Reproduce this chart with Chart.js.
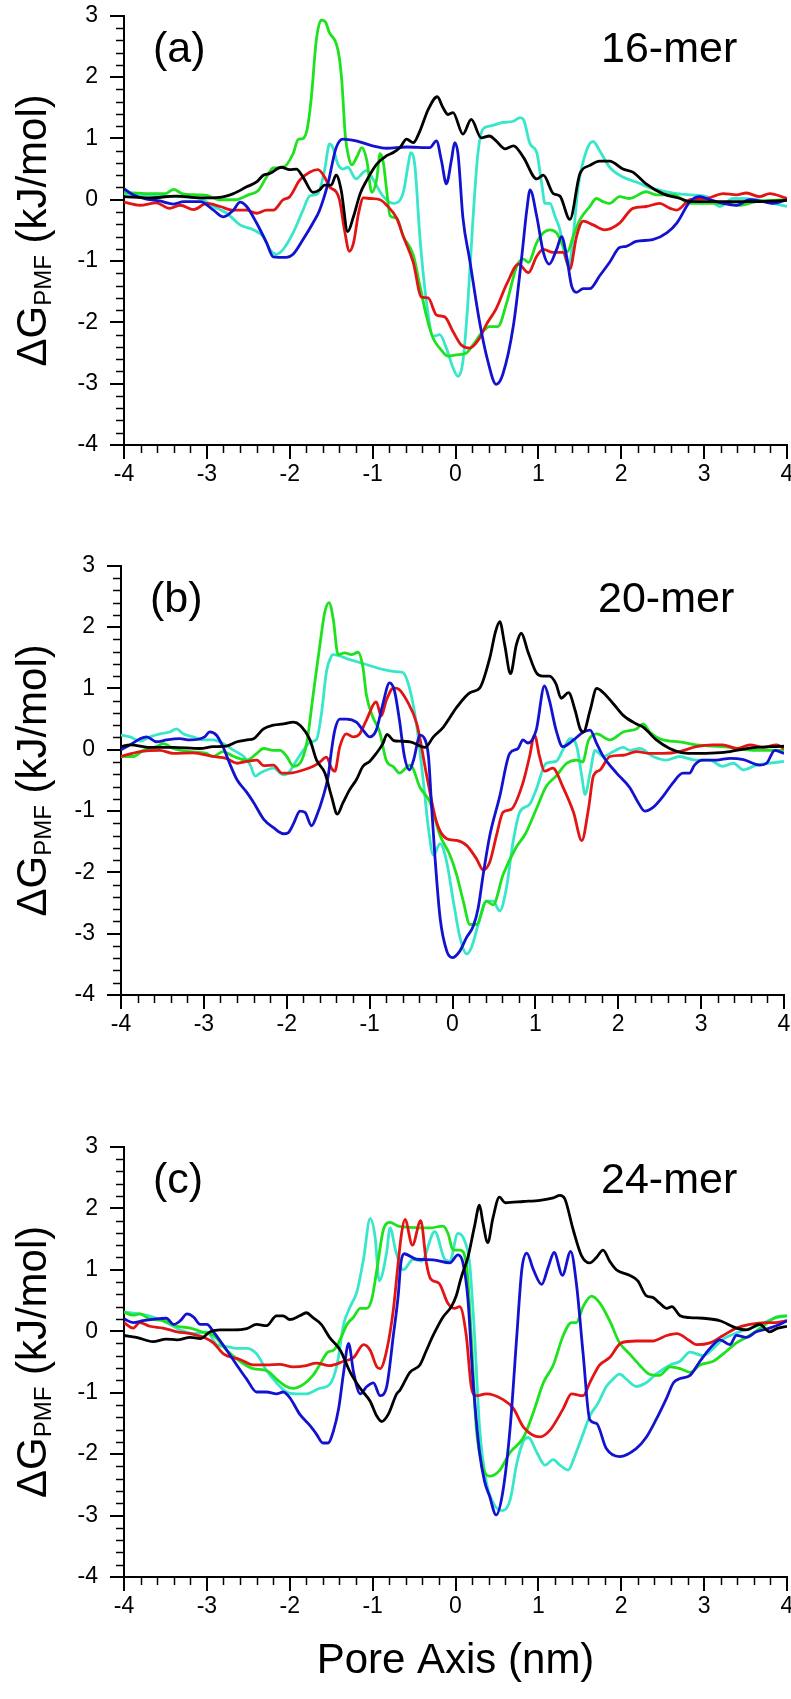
<!DOCTYPE html>
<html>
<head>
<meta charset="utf-8">
<title>PMF profiles</title>
<script src="https://cdn.jsdelivr.net/npm/chart.js@4.4.1/dist/chart.umd.min.js"></script>
<style>
  html, body { margin: 0; padding: 0; background: #fff; }
  body { width: 791px; height: 1699px; position: relative; overflow: hidden; }
  canvas { position: absolute; left: 0; }
</style>
</head>
<body>
<canvas id="chartA" width="800" height="520" style="top:-10px"></canvas>
<canvas id="chartB" width="800" height="520" style="top:540px"></canvas>
<canvas id="chartC" width="800" height="578" style="top:1121px"></canvas>
<script>
const FONT = "'Liberation Sans', Arial, Helvetica, sans-serif";

const panelTags = ['(a)', '(b)', '(c)'];
const panelSizes = ['16-mer', '20-mer', '24-mer'];
const seriesNames = ['black', 'blue', 'red', 'green', 'cyan'];
const seriesColors = ['#000000', '#1212d0', '#e21414', '#1ee21e', '#38e6c9'];
const xRange = [-4, 4];
const yRange = [-4, 3];

// (a) 16-mer, [pore axis nm, dG kJ/mol]
const a16Black = [[-4.0,0.05],[-3.69,0.03],[-3.37,0.06],[-3.08,0.03],[-2.84,0.04],[-2.68,0.1],[-2.52,0.21],[-2.4,0.29],[-2.32,0.4],[-2.24,0.43],[-2.1,0.53],[-2.0,0.49],[-1.92,0.5],[-1.84,0.37],[-1.72,0.12],[-1.64,0.16],[-1.58,0.24],[-1.5,0.24],[-1.44,0.4],[-1.38,0.16],[-1.3,-0.52],[-1.23,-0.27],[-1.15,0.1],[-1.07,0.32],[-0.95,0.58],[-0.83,0.72],[-0.75,0.77],[-0.67,0.85],[-0.59,0.99],[-0.51,0.93],[-0.43,1.12],[-0.33,1.47],[-0.22,1.68],[-0.15,1.5],[-0.09,1.39],[-0.03,1.42],[0.09,1.07],[0.19,1.31],[0.31,1.01],[0.41,1.04],[0.49,0.96],[0.6,0.83],[0.7,0.88],[0.82,0.69],[0.98,0.34],[1.06,0.4],[1.18,0.1],[1.26,0.06],[1.38,-0.32],[1.5,0.42],[1.62,0.56],[1.74,0.63],[1.86,0.63],[2.02,0.5],[2.14,0.45],[2.3,0.26],[2.5,0.1],[2.71,0.02],[2.83,-0.03],[3.23,-0.03],[3.63,-0.03],[4.0,-0.01]];
const a16Blue = [[-4.0,0.18],[-3.89,0.08],[-3.73,0.01],[-3.57,-0.02],[-3.4,-0.07],[-3.28,-0.03],[-3.08,-0.03],[-2.92,-0.17],[-2.8,-0.28],[-2.68,-0.17],[-2.6,-0.04],[-2.52,-0.11],[-2.4,-0.38],[-2.28,-0.7],[-2.2,-0.93],[-2.04,-0.94],[-1.96,-0.89],[-1.84,-0.65],[-1.72,-0.38],[-1.64,-0.17],[-1.54,0.26],[-1.44,0.85],[-1.36,0.99],[-1.2,0.96],[-1.0,0.88],[-0.83,0.84],[-0.59,0.86],[-0.31,0.85],[-0.23,0.96],[-0.17,0.64],[-0.11,0.26],[-0.05,0.64],[-0.01,0.93],[0.03,0.75],[0.09,-0.3],[0.17,-0.97],[0.29,-1.99],[0.39,-2.63],[0.49,-3.01],[0.57,-2.85],[0.7,-2.04],[0.8,-0.92],[0.86,-0.17],[0.9,0.16],[0.98,-0.27],[1.06,-0.86],[1.13,-1.05],[1.22,-0.81],[1.28,-0.6],[1.34,-0.92],[1.4,-1.4],[1.46,-1.51],[1.54,-1.45],[1.62,-1.45],[1.74,-1.24],[1.86,-1.02],[1.98,-0.78],[2.06,-0.76],[2.18,-0.68],[2.38,-0.65],[2.55,-0.54],[2.67,-0.38],[2.83,-0.03],[2.95,0.05],[3.07,0.0],[3.23,-0.06],[3.39,-0.09],[3.55,0.0],[3.71,-0.03],[3.83,-0.06],[4.0,0.0]];
const a16Red = [[-4.0,-0.04],[-3.81,-0.09],[-3.61,-0.05],[-3.45,-0.14],[-3.32,-0.09],[-3.16,-0.16],[-3.0,-0.06],[-2.84,-0.11],[-2.68,-0.17],[-2.52,-0.17],[-2.4,-0.22],[-2.28,-0.17],[-2.2,-0.17],[-2.08,0.0],[-2.0,0.05],[-1.88,0.32],[-1.76,0.45],[-1.66,0.49],[-1.58,0.37],[-1.52,0.21],[-1.44,0.13],[-1.4,0.0],[-1.34,-0.49],[-1.28,-0.84],[-1.23,-0.7],[-1.17,-0.22],[-1.11,0.03],[-1.03,0.02],[-0.91,0.0],[-0.83,-0.09],[-0.71,-0.3],[-0.63,-0.6],[-0.51,-1.02],[-0.41,-1.59],[-0.33,-1.6],[-0.23,-1.88],[-0.13,-1.91],[-0.03,-2.15],[0.07,-2.37],[0.17,-2.42],[0.29,-2.26],[0.37,-2.04],[0.49,-1.78],[0.62,-1.37],[0.76,-1.05],[0.88,-1.19],[0.98,-0.92],[1.06,-0.81],[1.18,-0.86],[1.3,-0.86],[1.38,-1.13],[1.46,-0.6],[1.54,-0.35],[1.66,-0.41],[1.8,-0.49],[1.98,-0.38],[2.14,-0.14],[2.3,-0.11],[2.46,-0.06],[2.59,-0.14],[2.67,-0.17],[2.83,0.0],[3.03,0.02],[3.23,0.1],[3.39,0.08],[3.51,0.11],[3.67,0.05],[3.79,0.1],[4.0,0.02]];
const a16Green = [[-4.0,0.12],[-3.7,0.1],[-3.5,0.1],[-3.4,0.17],[-3.3,0.1],[-3.1,0.08],[-3.0,0.07],[-2.85,0.0],[-2.65,0.0],[-2.5,0.08],[-2.38,0.15],[-2.28,0.37],[-2.2,0.52],[-2.08,0.53],[-1.96,0.75],[-1.9,0.98],[-1.84,1.0],[-1.79,1.15],[-1.74,1.66],[-1.68,2.6],[-1.62,2.93],[-1.57,2.9],[-1.52,2.72],[-1.44,2.55],[-1.4,2.3],[-1.37,1.9],[-1.33,1.05],[-1.29,0.7],[-1.25,0.57],[-1.19,0.7],[-1.13,0.85],[-1.07,0.64],[-1.01,0.12],[-0.95,0.34],[-0.91,0.75],[-0.87,0.6],[-0.83,0.14],[-0.79,-0.26],[-0.71,-0.3],[-0.63,-0.6],[-0.51,-0.9],[-0.43,-1.4],[-0.35,-1.9],[-0.27,-2.26],[-0.19,-2.42],[-0.09,-2.55],[0.01,-2.53],[0.13,-2.5],[0.21,-2.37],[0.33,-2.15],[0.41,-2.07],[0.51,-2.07],[0.62,-1.67],[0.74,-1.08],[0.82,-0.97],[0.88,-1.02],[0.98,-0.7],[1.06,-0.54],[1.14,-0.49],[1.22,-0.54],[1.3,-0.76],[1.35,-0.85],[1.42,-0.6],[1.5,-0.33],[1.62,-0.11],[1.7,0.02],[1.78,-0.03],[1.86,-0.06],[1.98,0.05],[2.1,0.02],[2.3,0.13],[2.42,0.08],[2.63,0.08],[2.83,-0.06],[3.23,-0.06],[3.43,-0.09],[3.63,-0.03],[4.0,0.0]];
const a16Cyan = [[-4.0,0.1],[-3.69,0.08],[-3.37,0.05],[-3.08,0.02],[-2.92,-0.11],[-2.76,-0.22],[-2.6,-0.41],[-2.44,-0.49],[-2.32,-0.6],[-2.24,-0.81],[-2.16,-0.89],[-2.08,-0.81],[-1.96,-0.54],[-1.84,-0.17],[-1.76,0.06],[-1.66,0.1],[-1.58,0.48],[-1.52,0.91],[-1.48,0.85],[-1.42,0.58],[-1.36,0.5],[-1.3,0.53],[-1.2,0.34],[-1.11,0.45],[-1.07,0.48],[-0.99,0.32],[-0.87,0.05],[-0.75,-0.06],[-0.63,0.12],[-0.57,0.58],[-0.54,0.77],[-0.49,0.55],[-0.43,-0.6],[-0.35,-1.67],[-0.27,-2.23],[-0.19,-2.2],[-0.11,-2.42],[-0.03,-2.74],[0.03,-2.88],[0.09,-2.63],[0.15,-1.67],[0.21,-0.33],[0.27,0.75],[0.33,1.15],[0.41,1.2],[0.57,1.26],[0.7,1.28],[0.78,1.34],[0.82,1.31],[0.9,0.91],[0.98,0.77],[1.04,0.26],[1.08,-0.06],[1.14,-0.06],[1.2,-0.27],[1.26,-0.49],[1.32,-0.92],[1.37,-1.08],[1.42,-0.6],[1.48,0.21],[1.58,0.8],[1.66,0.95],[1.74,0.8],[1.86,0.53],[2.02,0.37],[2.18,0.29],[2.38,0.18],[2.55,0.13],[2.67,0.1],[2.83,0.08],[3.03,0.05],[3.19,-0.11],[3.35,0.02],[3.63,0.0],[3.83,-0.06],[4.0,-0.11]];

// (b) 20-mer
const b20Black = [[-4.0,0.05],[-3.89,0.08],[-3.65,0.04],[-3.37,0.04],[-3.05,0.02],[-2.89,0.05],[-2.73,0.06],[-2.6,0.13],[-2.48,0.16],[-2.4,0.18],[-2.28,0.34],[-2.16,0.4],[-2.04,0.42],[-1.92,0.45],[-1.84,0.4],[-1.72,0.16],[-1.64,-0.17],[-1.54,-0.38],[-1.46,-0.76],[-1.39,-1.05],[-1.32,-0.86],[-1.24,-0.65],[-1.16,-0.49],[-1.08,-0.27],[-1.0,-0.19],[-0.92,-0.06],[-0.84,0.1],[-0.79,0.25],[-0.71,0.15],[-0.64,0.14],[-0.51,0.13],[-0.33,0.04],[-0.23,0.21],[-0.11,0.37],[0.05,0.69],[0.21,0.93],[0.33,1.01],[0.45,1.5],[0.52,1.93],[0.57,2.09],[0.63,1.71],[0.7,1.24],[0.77,1.71],[0.83,1.9],[0.91,1.6],[1.01,1.26],[1.09,1.2],[1.17,1.2],[1.25,1.07],[1.31,0.84],[1.4,0.93],[1.48,0.64],[1.54,0.34],[1.58,0.29],[1.66,0.64],[1.74,1.0],[1.82,0.93],[1.94,0.75],[2.06,0.56],[2.22,0.42],[2.3,0.37],[2.46,0.16],[2.62,0.02],[2.78,-0.05],[2.94,-0.06],[3.18,-0.05],[3.35,-0.03],[3.51,0.01],[3.67,0.04],[3.87,0.05],[4.0,0.06]];
const b20Blue = [[-4.0,0.0],[-3.89,0.08],[-3.77,0.18],[-3.69,0.21],[-3.57,0.13],[-3.45,0.16],[-3.29,0.18],[-3.17,0.16],[-2.99,0.21],[-2.93,0.29],[-2.85,0.24],[-2.77,0.05],[-2.69,-0.22],[-2.6,-0.49],[-2.48,-0.7],[-2.4,-0.86],[-2.28,-1.13],[-2.16,-1.27],[-2.04,-1.37],[-1.98,-1.35],[-1.92,-1.21],[-1.84,-1.0],[-1.78,-1.02],[-1.7,-1.24],[-1.64,-1.08],[-1.56,-0.76],[-1.5,-0.43],[-1.46,-0.01],[-1.42,0.32],[-1.36,0.5],[-1.28,0.5],[-1.16,0.45],[-1.08,0.32],[-1.0,0.21],[-0.92,0.32],[-0.84,0.75],[-0.76,1.09],[-0.7,0.96],[-0.64,0.48],[-0.58,-0.11],[-0.52,-0.33],[-0.47,-0.17],[-0.39,0.24],[-0.35,0.21],[-0.29,-0.11],[-0.25,-0.97],[-0.21,-1.78],[-0.15,-2.74],[-0.07,-3.28],[0.0,-3.39],[0.09,-3.28],[0.17,-3.06],[0.25,-2.88],[0.31,-2.58],[0.37,-2.04],[0.45,-1.4],[0.57,-0.76],[0.69,-0.06],[0.79,0.02],[0.85,0.16],[0.91,0.11],[1.01,0.32],[1.11,1.04],[1.17,0.8],[1.25,0.32],[1.33,0.05],[1.46,0.16],[1.58,0.29],[1.66,0.32],[1.74,0.1],[1.82,-0.11],[1.98,-0.38],[2.14,-0.62],[2.24,-0.86],[2.32,-1.0],[2.42,-0.94],[2.54,-0.76],[2.66,-0.54],[2.78,-0.38],[2.86,-0.38],[2.92,-0.25],[3.02,-0.17],[3.18,-0.17],[3.35,-0.14],[3.51,-0.16],[3.71,-0.25],[3.79,-0.22],[3.89,-0.01],[4.0,-0.06]];
const b20Red = [[-4.0,-0.11],[-3.77,-0.03],[-3.53,-0.01],[-3.37,-0.06],[-3.13,-0.05],[-2.89,-0.11],[-2.73,-0.14],[-2.6,-0.22],[-2.48,-0.19],[-2.36,-0.17],[-2.28,-0.26],[-2.16,-0.25],[-2.06,-0.38],[-1.96,-0.38],[-1.8,-0.33],[-1.68,-0.27],[-1.6,-0.2],[-1.52,-0.12],[-1.46,-0.3],[-1.42,-0.35],[-1.36,0.05],[-1.28,0.26],[-1.2,0.21],[-1.12,0.26],[-1.04,0.48],[-0.92,0.78],[-0.86,0.55],[-0.8,0.8],[-0.71,1.01],[-0.65,0.99],[-0.55,0.8],[-0.43,0.42],[-0.31,-0.43],[-0.19,-1.19],[-0.07,-1.45],[0.05,-1.48],[0.17,-1.56],[0.29,-1.78],[0.37,-1.96],[0.45,-1.83],[0.53,-1.4],[0.61,-1.02],[0.71,-0.97],[0.85,-0.54],[0.93,-0.11],[0.99,0.24],[1.05,-0.11],[1.11,-0.35],[1.21,-0.3],[1.33,-0.6],[1.46,-1.02],[1.56,-1.48],[1.64,-0.97],[1.7,-0.43],[1.78,-0.33],[1.9,-0.11],[2.06,-0.09],[2.22,-0.03],[2.38,-0.06],[2.54,-0.06],[2.74,-0.03],[2.94,0.05],[3.14,0.08],[3.26,0.08],[3.43,0.02],[3.59,0.08],[3.75,0.04],[3.91,0.08],[4.0,0.02]];
const b20Green = [[-4.0,-0.11],[-3.85,-0.11],[-3.73,-0.01],[-3.57,0.05],[-3.49,0.1],[-3.37,0.02],[-3.17,-0.03],[-2.97,-0.06],[-2.89,-0.11],[-2.77,-0.03],[-2.64,-0.11],[-2.48,-0.17],[-2.36,-0.06],[-2.28,0.02],[-2.16,-0.01],[-2.08,-0.01],[-2.0,-0.11],[-1.92,-0.27],[-1.84,-0.22],[-1.76,0.1],[-1.68,0.91],[-1.6,1.71],[-1.54,2.25],[-1.49,2.4],[-1.44,2.14],[-1.38,1.55],[-1.3,1.58],[-1.22,1.55],[-1.14,1.59],[-1.08,1.34],[-1.04,0.9],[-0.96,0.53],[-0.88,0.3],[-0.8,-0.17],[-0.71,-0.28],[-0.64,-0.38],[-0.51,-0.25],[-0.39,-0.62],[-0.27,-0.86],[-0.15,-1.4],[-0.03,-1.72],[0.05,-2.04],[0.13,-2.47],[0.21,-2.85],[0.29,-2.85],[0.41,-2.47],[0.49,-2.53],[0.61,-2.04],[0.76,-1.61],[0.88,-1.37],[1.01,-0.97],[1.13,-0.6],[1.25,-0.43],[1.38,-0.22],[1.5,-0.17],[1.57,-0.2],[1.64,0.15],[1.74,0.26],[1.9,0.16],[2.06,0.29],[2.22,0.34],[2.3,0.42],[2.38,0.29],[2.54,0.16],[2.74,0.13],[2.94,0.08],[3.26,0.05],[3.67,-0.01],[4.0,-0.01]];
const b20Cyan = [[-4.0,0.24],[-3.89,0.21],[-3.77,0.14],[-3.65,0.21],[-3.53,0.26],[-3.41,0.29],[-3.33,0.34],[-3.25,0.26],[-3.13,0.21],[-3.01,0.16],[-2.89,0.16],[-2.77,0.1],[-2.64,-0.01],[-2.52,-0.11],[-2.44,-0.25],[-2.38,-0.43],[-2.32,-0.38],[-2.24,-0.33],[-2.16,-0.3],[-2.04,-0.41],[-1.98,-0.38],[-1.88,-0.17],[-1.8,-0.01],[-1.72,0.12],[-1.64,0.17],[-1.58,0.6],[-1.52,1.28],[-1.46,1.53],[-1.44,1.55],[-1.24,1.47],[-1.04,1.39],[-0.84,1.31],[-0.65,1.27],[-0.6,1.26],[-0.51,0.96],[-0.43,0.37],[-0.35,-0.54],[-0.29,-1.29],[-0.23,-1.72],[-0.15,-1.53],[-0.07,-1.83],[0.01,-2.47],[0.09,-3.06],[0.17,-3.33],[0.23,-3.22],[0.31,-2.85],[0.41,-2.47],[0.49,-2.47],[0.57,-2.63],[0.65,-2.26],[0.73,-1.51],[0.81,-1.02],[0.93,-0.89],[1.01,-0.65],[1.13,-0.22],[1.25,-0.19],[1.33,-0.01],[1.42,0.18],[1.5,0.05],[1.56,-0.43],[1.6,-0.73],[1.66,-0.38],[1.72,-0.01],[1.82,-0.11],[1.94,-0.03],[2.06,0.04],[2.14,-0.01],[2.26,0.02],[2.42,-0.11],[2.58,-0.17],[2.74,-0.11],[2.94,-0.17],[3.1,-0.17],[3.26,-0.27],[3.39,-0.22],[3.51,-0.33],[3.67,-0.25],[3.83,-0.22],[4.0,-0.19]];

// (c) 24-mer
const c24Black = [[-4.0,-0.07],[-3.85,-0.1],[-3.65,-0.17],[-3.49,-0.13],[-3.36,-0.14],[-3.2,-0.1],[-3.08,-0.12],[-2.96,-0.01],[-2.84,0.02],[-2.68,0.02],[-2.52,0.04],[-2.4,0.11],[-2.28,0.09],[-2.16,0.25],[-2.08,0.25],[-2.0,0.19],[-1.88,0.25],[-1.8,0.3],[-1.72,0.22],[-1.62,0.11],[-1.52,-0.1],[-1.39,-0.31],[-1.27,-0.67],[-1.15,-0.93],[-1.03,-1.14],[-0.95,-1.38],[-0.89,-1.47],[-0.81,-1.35],[-0.71,-1.02],[-0.67,-0.96],[-0.55,-0.67],[-0.43,-0.55],[-0.35,-0.31],[-0.27,-0.07],[-0.15,0.23],[-0.05,0.4],[0.01,0.58],[0.07,0.88],[0.15,1.2],[0.23,1.71],[0.29,2.05],[0.33,1.77],[0.39,1.44],[0.45,1.83],[0.53,2.18],[0.6,2.09],[0.82,2.11],[1.02,2.13],[1.18,2.17],[1.26,2.21],[1.32,2.15],[1.42,1.65],[1.52,1.23],[1.62,1.11],[1.7,1.2],[1.78,1.32],[1.86,1.14],[1.94,1.0],[2.1,0.91],[2.2,0.82],[2.3,0.58],[2.38,0.55],[2.46,0.46],[2.55,0.37],[2.61,0.4],[2.71,0.25],[2.83,0.22],[2.99,0.21],[3.19,0.17],[3.39,0.05],[3.51,0.02],[3.67,0.11],[3.79,-0.01],[3.89,0.05],[4.0,0.08]];
const c24Blue = [[-4.0,0.2],[-3.89,0.14],[-3.77,0.17],[-3.61,0.2],[-3.49,0.21],[-3.4,0.11],[-3.32,0.17],[-3.24,0.28],[-3.16,0.23],[-3.08,0.11],[-3.0,0.11],[-2.92,-0.01],[-2.76,-0.31],[-2.64,-0.55],[-2.52,-0.78],[-2.4,-0.99],[-2.28,-0.99],[-2.16,-1.02],[-2.08,-0.99],[-2.0,-1.08],[-1.88,-1.35],[-1.76,-1.53],[-1.68,-1.67],[-1.6,-1.82],[-1.54,-1.82],[-1.47,-1.61],[-1.41,-1.26],[-1.35,-0.67],[-1.29,-0.2],[-1.23,-0.67],[-1.15,-1.02],[-1.07,-0.9],[-0.99,-0.84],[-0.91,-1.05],[-0.83,-0.9],[-0.75,-0.07],[-0.69,0.6],[-0.66,1.1],[-0.62,1.26],[-0.47,1.17],[-0.27,1.16],[-0.07,1.11],[0.03,1.24],[0.09,1.11],[0.15,0.52],[0.21,-0.78],[0.29,-1.97],[0.35,-2.44],[0.41,-2.68],[0.49,-2.99],[0.57,-2.62],[0.66,-1.56],[0.74,-0.07],[0.8,1.0],[0.86,1.27],[0.94,1.0],[1.04,0.76],[1.12,1.05],[1.19,1.28],[1.29,0.91],[1.39,1.3],[1.46,0.76],[1.54,-0.37],[1.62,-1.44],[1.7,-1.5],[1.82,-1.91],[1.98,-2.04],[2.18,-1.91],[2.3,-1.73],[2.42,-1.44],[2.55,-1.08],[2.63,-0.84],[2.71,-0.77],[2.83,-0.72],[2.95,-0.49],[3.07,-0.28],[3.19,-0.14],[3.31,-0.22],[3.39,-0.07],[3.51,-0.1],[3.63,-0.01],[3.79,0.05],[3.91,0.11],[4.0,0.17]];
const c24Red = [[-4.0,0.14],[-3.89,0.05],[-3.81,0.14],[-3.69,0.08],[-3.53,0.05],[-3.36,-0.01],[-3.2,-0.04],[-3.04,-0.1],[-2.92,-0.19],[-2.8,-0.37],[-2.6,-0.46],[-2.44,-0.55],[-2.28,-0.55],[-2.12,-0.54],[-1.96,-0.58],[-1.8,-0.56],[-1.68,-0.52],[-1.52,-0.56],[-1.35,-0.49],[-1.23,-0.43],[-1.11,-0.22],[-1.03,-0.31],[-0.95,-0.58],[-0.91,-0.61],[-0.83,-0.31],[-0.75,0.35],[-0.7,1.0],[-0.65,1.6],[-0.61,1.82],[-0.52,1.4],[-0.42,1.8],[-0.35,1.1],[-0.3,0.85],[-0.2,0.78],[-0.09,0.45],[-0.01,0.37],[0.05,0.4],[0.13,-0.07],[0.19,-0.9],[0.25,-1.05],[0.37,-1.02],[0.57,-1.11],[0.7,-1.26],[0.82,-1.56],[1.02,-1.72],[1.14,-1.61],[1.3,-1.26],[1.4,-1.02],[1.54,-1.05],[1.62,-0.84],[1.74,-0.55],[1.86,-0.43],[2.0,-0.19],[2.18,-0.16],[2.38,-0.16],[2.55,-0.07],[2.67,-0.04],[2.83,-0.16],[2.91,-0.22],[3.07,-0.19],[3.23,-0.07],[3.39,0.05],[3.55,0.11],[3.75,0.14],[3.87,0.14],[4.0,0.17]];
const c24Green = [[-4.0,0.31],[-3.89,0.26],[-3.81,0.28],[-3.69,0.2],[-3.53,0.17],[-3.36,0.08],[-3.2,0.05],[-3.04,-0.02],[-2.92,-0.07],[-2.76,-0.31],[-2.6,-0.49],[-2.44,-0.61],[-2.28,-0.64],[-2.16,-0.78],[-2.04,-0.9],[-1.96,-0.93],[-1.84,-0.87],[-1.72,-0.72],[-1.64,-0.55],[-1.54,-0.34],[-1.47,-0.31],[-1.39,-0.13],[-1.31,0.11],[-1.23,0.23],[-1.15,0.37],[-1.07,0.37],[-1.01,0.52],[-0.95,0.99],[-0.87,1.65],[-0.79,1.77],[-0.69,1.71],[-0.55,1.69],[-0.31,1.68],[-0.15,1.71],[-0.09,1.59],[-0.03,1.32],[0.05,1.32],[0.13,1.11],[0.19,-0.07],[0.25,-1.56],[0.33,-2.21],[0.41,-2.36],[0.53,-2.27],[0.66,-1.97],[0.82,-1.73],[0.94,-1.32],[1.06,-0.84],[1.18,-0.55],[1.3,-0.07],[1.4,0.14],[1.46,0.14],[1.54,0.4],[1.64,0.57],[1.74,0.46],[1.86,0.17],[1.98,-0.19],[2.1,-0.37],[2.22,-0.55],[2.34,-0.7],[2.46,-0.72],[2.59,-0.58],[2.71,-0.61],[2.83,-0.67],[2.95,-0.55],[3.11,-0.49],[3.23,-0.37],[3.39,-0.19],[3.55,-0.07],[3.71,0.08],[3.87,0.23],[4.0,0.25]];
const c24Cyan = [[-4.0,0.31],[-3.81,0.28],[-3.65,0.23],[-3.49,0.14],[-3.32,0.02],[-3.16,-0.04],[-3.0,-0.01],[-2.88,-0.22],[-2.76,-0.25],[-2.64,-0.28],[-2.52,-0.28],[-2.4,-0.37],[-2.28,-0.64],[-2.16,-0.84],[-2.04,-0.99],[-1.92,-1.02],[-1.8,-1.02],[-1.64,-0.93],[-1.52,-0.87],[-1.43,-0.55],[-1.35,0.11],[-1.27,0.4],[-1.19,0.64],[-1.11,1.17],[-1.03,1.83],[-0.97,1.53],[-0.92,0.82],[-0.83,1.29],[-0.79,1.68],[-0.72,1.3],[-0.63,1.0],[-0.51,1.17],[-0.41,1.14],[-0.25,1.62],[-0.13,1.17],[-0.07,1.14],[0.03,1.59],[0.11,1.47],[0.17,1.11],[0.23,-0.07],[0.29,-1.56],[0.37,-2.44],[0.47,-2.83],[0.57,-2.92],[0.66,-2.74],[0.74,-2.15],[0.82,-1.79],[0.88,-1.73],[0.98,-1.97],[1.08,-2.18],[1.18,-2.09],[1.26,-2.18],[1.36,-2.26],[1.44,-2.03],[1.54,-1.67],[1.62,-1.38],[1.72,-1.17],[1.82,-0.9],[1.9,-0.78],[1.98,-0.7],[2.06,-0.78],[2.18,-0.9],[2.3,-0.84],[2.42,-0.7],[2.59,-0.55],[2.71,-0.49],[2.83,-0.34],[2.99,-0.4],[3.11,-0.28],[3.23,-0.13],[3.43,-0.01],[3.63,0.08],[3.83,0.2],[4.0,0.25]];

function toPoints(pairs) {
  return pairs.map(p => ({ x: p[0], y: p[1] }));
}

// short minor ticks every 0.2, pointing outwards like the long ones
const minorTicks = {
  id: 'minorTicks',
  afterDraw(chart) {
    const ctx = chart.ctx;
    const xs = chart.scales.x, ys = chart.scales.y;
    ctx.save();
    ctx.strokeStyle = '#000';
    ctx.lineWidth = 1.5;
    ctx.beginPath();
    for (let i = 1; i < 40; i++) {
      if (i % 5 === 0) continue;
      const px = Math.round(xs.getPixelForValue(xs.min + i * 0.2)) + 0.5;
      ctx.moveTo(px, ys.bottom);
      ctx.lineTo(px, ys.bottom + 8);
    }
    for (let i = 1; i < 35; i++) {
      if (i % 5 === 0) continue;
      const py = Math.round(ys.getPixelForValue(ys.min + i * 0.2)) + 0.5;
      ctx.moveTo(xs.left, py);
      ctx.lineTo(xs.left - 8, py);
    }
    ctx.stroke();
    ctx.restore();
  }
};

const panelText = {
  id: 'panelText',
  afterDraw(chart, args, opts) {
    const ctx = chart.ctx;
    const area = chart.chartArea;
    ctx.save();
    ctx.fillStyle = '#000';
    ctx.textBaseline = 'alphabetic';
    ctx.textAlign = 'left';
    ctx.font = '43px ' + FONT;
    ctx.fillText(opts.tag, area.left + 29, area.top + 46);
    ctx.fillText(opts.size, area.left + 477, area.top + 46);

    // rotated y title with subscript
    const mainFont = '42px ' + FONT, subFont = '24px ' + FONT;
    ctx.font = mainFont;
    const w1 = ctx.measureText('\u0394G').width;
    const w3 = ctx.measureText(' (kJ/mol)').width;
    ctx.font = subFont;
    const w2 = ctx.measureText('PMF').width;
    const cy = (area.top + area.bottom) / 2;
    ctx.translate(46, cy);
    ctx.rotate(-Math.PI / 2);
    let x = -(w1 + w2 + w3) / 2;
    ctx.font = mainFont;
    ctx.fillText('\u0394G', x, 0);
    x += w1;
    ctx.font = subFont;
    ctx.fillText('PMF', x, 5);
    x += w2;
    ctx.font = mainFont;
    ctx.fillText(' (kJ/mol)', x, 0);
    ctx.setTransform(1, 0, 0, 1, 0, 0);

    if (opts.xTitle) {
      ctx.font = '42px ' + FONT;
      ctx.textAlign = 'center';
      ctx.fillText(opts.xTitle, (area.left + area.right) / 2, opts.xTitleY);
    }
    ctx.restore();
  }
};

function buildChart(id, series, opts) {
  const datasets = series.map((pairs, i) => ({
    label: seriesNames[i],
    data: toPoints(pairs),
    borderColor: seriesColors[i],
    borderWidth: 2.8,
    pointRadius: 0,
    fill: false,
    cubicInterpolationMode: 'monotone'
  }));
  const tickFont = { family: FONT, size: 23 };
  return new Chart(document.getElementById(id), {
    type: 'line',
    data: { datasets: datasets },
    options: {
      responsive: false,
      animation: false,
      events: [],
      layout: { padding: { top: 20, right: opts.padRight, bottom: 0, left: 0 } },
      plugins: {
        legend: { display: false },
        tooltip: { enabled: false },
        panelText: { tag: opts.tag, size: opts.size, xTitle: opts.xTitle, xTitleY: opts.xTitleY }
      },
      scales: {
        x: {
          type: 'linear',
          min: xRange[0],
          max: xRange[1],
          afterFit: s => { s.height = opts.xHeight; },
          grid: { drawOnChartArea: false, color: '#000', lineWidth: 2, tickLength: 14 },
          border: { color: '#000', width: 2 },
          ticks: { stepSize: 1, autoSkip: false, maxRotation: 0, color: '#000', font: tickFont, padding: 2 }
        },
        y: {
          type: 'linear',
          min: yRange[0],
          max: yRange[1],
          afterFit: s => { s.width = opts.yWidth; },
          grid: { drawOnChartArea: false, color: '#000', lineWidth: 2, tickLength: 14 },
          border: { color: '#000', width: 2 },
          ticks: { stepSize: 1, autoSkip: false, color: '#000', font: tickFont, padding: 12 }
        }
      }
    },
    plugins: [minorTicks, panelText]
  });
}

buildChart('chartA', [a16Black, a16Blue, a16Red, a16Green, a16Cyan],
  { tag: panelTags[0], size: panelSizes[0], padRight: 13, yWidth: 124, xHeight: 65 });
buildChart('chartB', [b20Black, b20Blue, b20Red, b20Green, b20Cyan],
  { tag: panelTags[1], size: panelSizes[1], padRight: 16, yWidth: 121, xHeight: 65 });
buildChart('chartC', [c24Black, c24Blue, c24Red, c24Green, c24Cyan],
  { tag: panelTags[2], size: panelSizes[2], padRight: 13, yWidth: 124, xHeight: 122,
    xTitle: 'Pore Axis (nm)', xTitleY: 552 });
</script>
</body>
</html>
